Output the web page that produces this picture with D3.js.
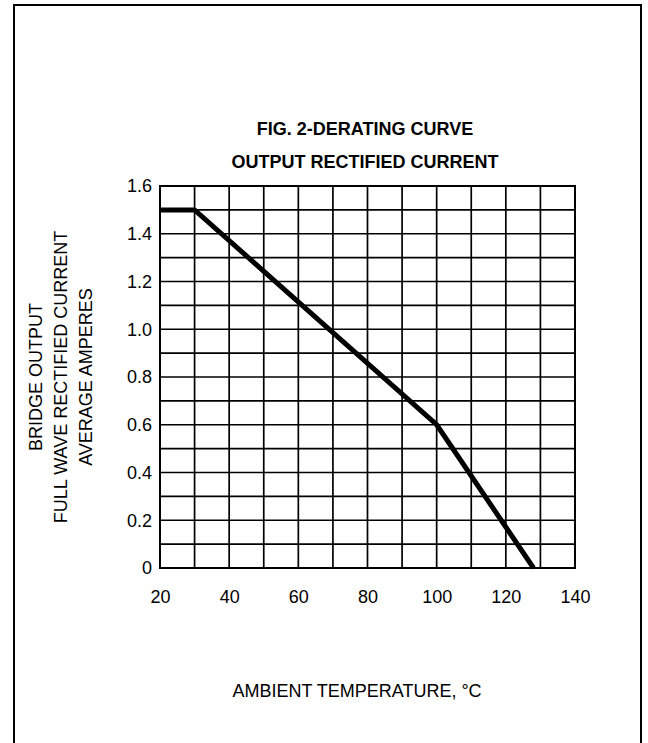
<!DOCTYPE html>
<html><head><meta charset="utf-8">
<script src="https://cdn.jsdelivr.net/npm/d3@7/dist/d3.min.js"></script>
<style>body{margin:0;background:#fff}svg{display:block}text{font-family:"Liberation Sans",Arial,sans-serif;fill:#000}</style>
</head><body>
<script>
const titleLines = ["FIG. 2-DERATING CURVE", "OUTPUT RECTIFIED CURRENT"];
const yTitleLines = ["BRIDGE OUTPUT", "FULL WAVE RECTIFIED CURRENT", "AVERAGE AMPERES"];
const xTitle = "AMBIENT TEMPERATURE, °C";
const xTicks = [20, 40, 60, 80, 100, 120, 140];
const yTicks = [0, 0.2, 0.4, 0.6, 0.8, 1.0, 1.2, 1.4, 1.6];
const curveTemp = [20, 30, 100, 128];
const curveAmps = [1.5, 1.5, 0.6, 0];

const W = 648, H = 743;
const svg = d3.select("body").append("svg").attr("width", W).attr("height", H);

// outer frame
svg.append("rect").attr("x", 14).attr("y", 5).attr("width", 627).attr("height", 800)
  .attr("fill", "none").attr("stroke", "#000").attr("stroke-width", 2);

const L = 160, R = 575, T = 186, B = 568;
const x = d3.scaleLinear().domain([20, 140]).range([L, R]);
const y = d3.scaleLinear().domain([0, 1.6]).range([B, T]);

const g = svg.append("g");
// grid
const vx = d3.range(20, 141, 10);
const hy = d3.range(0, 17).map(i => i / 10);
g.selectAll("line.v").data(vx).join("line")
  .attr("x1", d => x(d)).attr("x2", d => x(d)).attr("y1", T).attr("y2", B)
  .attr("stroke", "#000").attr("stroke-width", 1.7);
g.selectAll("line.h").data(hy).join("line")
  .attr("y1", d => y(d)).attr("y2", d => y(d)).attr("x1", L).attr("x2", R)
  .attr("stroke", "#000").attr("stroke-width", 1.7);
g.append("rect").attr("x", L).attr("y", T).attr("width", R - L).attr("height", B - T)
  .attr("fill", "none").attr("stroke", "#000").attr("stroke-width", 2);

// axes (labels only)
const xAxis = d3.axisBottom(x).tickValues(xTicks).tickSize(0).tickPadding(22).tickFormat(d3.format("d"));
const xa = svg.append("g").attr("transform", `translate(0,${B})`).call(xAxis);
xa.select(".domain").remove();
xa.selectAll("text").attr("font-size", 18).attr("font-family", '"Liberation Sans",Arial,sans-serif');

const yAxis = d3.axisLeft(y).tickValues(yTicks).tickSize(0).tickPadding(8)
  .tickFormat(d => d === 0 ? "0" : d3.format(".1f")(d));
const ya = svg.append("g").attr("transform", `translate(${L},0)`).call(yAxis);
ya.select(".domain").remove();
ya.selectAll("text").attr("font-size", 18).attr("font-family", '"Liberation Sans",Arial,sans-serif');

// curve
const pts = curveTemp.map((t, i) => [t, curveAmps[i]]);
svg.append("path").datum(pts)
  .attr("d", d3.line().x(d => x(d[0])).y(d => y(d[1])))
  .attr("fill", "none").attr("stroke", "#000").attr("stroke-width", 5).attr("stroke-linejoin", "miter");

// titles
svg.selectAll("text.title").data(titleLines).join("text")
  .attr("x", 365).attr("y", (d, i) => 135 + i * 33)
  .attr("text-anchor", "middle").attr("font-size", 18).attr("font-weight", "bold")
  .text(d => d);

svg.selectAll("text.ytitle").data(yTitleLines).join("text")
  .attr("transform", (d, i) => `translate(${42 + i * 25},377) rotate(-90)`)
  .attr("text-anchor", "middle").attr("font-size", 18)
  .text(d => d);

svg.append("text").attr("x", 357).attr("y", 697).attr("text-anchor", "middle")
  .attr("font-size", 18).text(xTitle);
</script>
</body></html>
